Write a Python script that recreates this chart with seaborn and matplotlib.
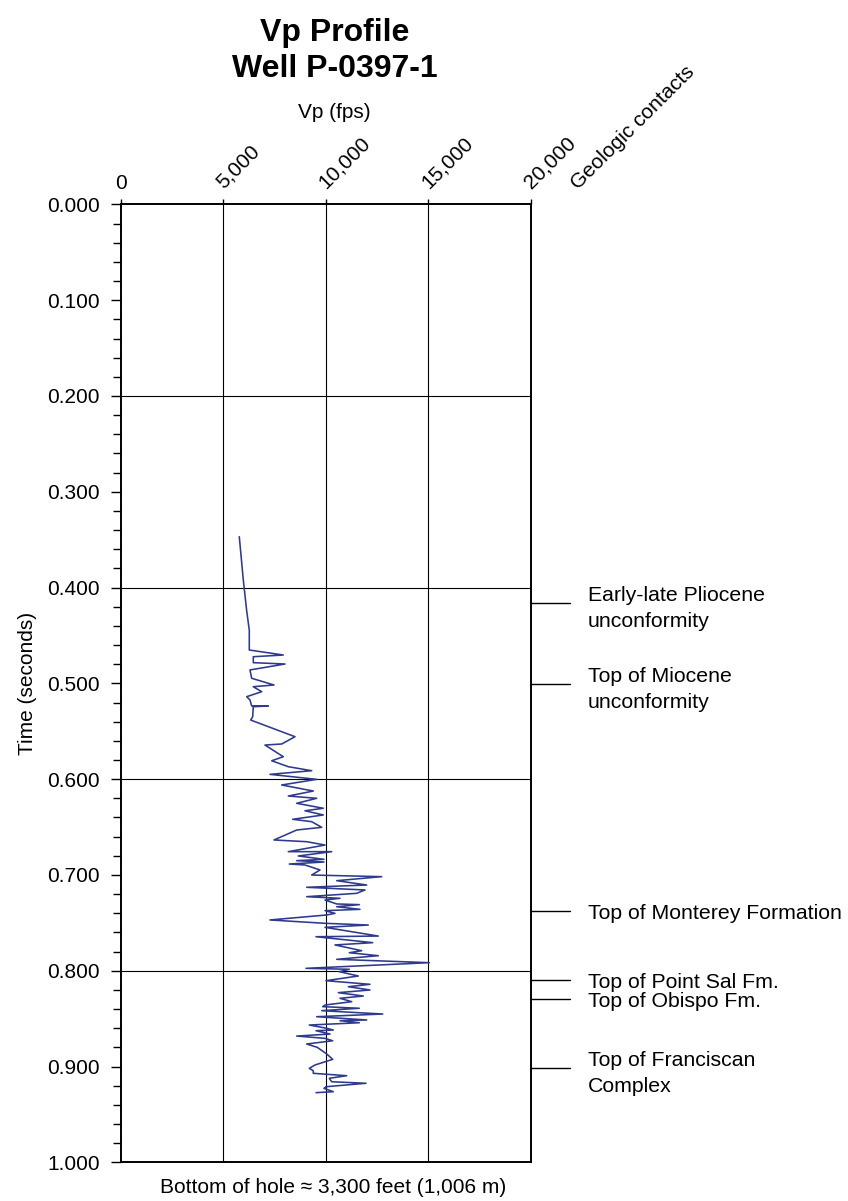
import numpy as np
import pandas as pd
import matplotlib
matplotlib.use("Agg")
import matplotlib.pyplot as plt
import seaborn as sns
from matplotlib.ticker import MultipleLocator, FuncFormatter

# Vp log (time in seconds, velocity in fps)
time_s = [0.3469, 0.3921, 0.4242, 0.4445, 0.4652, 0.4704, 0.4722, 0.4784, 0.4798, 0.4860,
          0.4947, 0.5017, 0.5035, 0.5087, 0.5139, 0.5174, 0.5236, 0.5236, 0.5244, 0.5348,
          0.5383, 0.5557, 0.5633, 0.5644, 0.5766, 0.5808, 0.5870, 0.5912, 0.5950, 0.6002,
          0.6061, 0.6124, 0.6176, 0.6200, 0.6252, 0.6304, 0.6330, 0.6374, 0.6419, 0.6444,
          0.6503, 0.6531, 0.6635, 0.6653, 0.6688, 0.6757, 0.6757, 0.6802, 0.6837, 0.6851,
          0.6865, 0.6886, 0.6896, 0.6948, 0.7001, 0.7018, 0.7060, 0.7105, 0.7129, 0.7157,
          0.7192, 0.7227, 0.7244, 0.7262, 0.7303, 0.7310, 0.7332, 0.7359, 0.7373, 0.7401,
          0.7418, 0.7470, 0.7505, 0.7523, 0.7547, 0.7638, 0.7645, 0.7707, 0.7731, 0.7791,
          0.7812, 0.7843, 0.7881, 0.7916, 0.7975, 0.7985, 0.8010, 0.8055, 0.8104, 0.8142,
          0.8167, 0.8201, 0.8229, 0.8264, 0.8288, 0.8323, 0.8358, 0.8375, 0.8392, 0.8417,
          0.8452, 0.8480, 0.8514, 0.8522, 0.8543, 0.8567, 0.8601, 0.8619, 0.8626, 0.8661,
          0.8682, 0.8706, 0.8731, 0.8765, 0.8800, 0.8869, 0.8925, 0.8984, 0.9019, 0.9044,
          0.9071, 0.9096, 0.9123, 0.9159, 0.9175, 0.9211, 0.9228, 0.9263, 0.9273]
vp_fps = [5780, 5976, 6141, 6268, 6268, 7927, 6463, 6463, 8010, 6302,
          6385, 7473, 6463, 6873, 6141, 6302, 6385, 7195, 6463, 6434,
          6337, 8498, 7849, 7034, 7927, 7361, 8171, 9312, 7278, 9556,
          7849, 9390, 8171, 9556, 8580, 9878, 8985, 9878, 8385, 9312,
          9800, 8580, 7473, 9068, 9961, 8171, 10288, 8659, 9912, 8580,
          9912, 8220, 8985, 9717, 9312, 12727, 10532, 11995, 9068, 11912,
          11507, 9068, 10693, 9961, 10532, 11634, 10532, 11668, 9961, 10449,
          10044, 7278, 9961, 12073, 9961, 12561, 9522, 12288, 10449, 11751,
          11146, 12561, 10532, 15049, 9034, 11146, 10659, 11585, 10010, 12156,
          11098, 12156, 10610, 11829, 10693, 11263, 9961, 9849, 11634, 9800,
          12776, 9556, 11995, 10693, 11634, 9195, 10044, 10366, 9522, 10205,
          8580, 9961, 10337, 9068, 9585, 10044, 10337, 9473, 9195, 9390,
          9390, 11020, 10171, 10288, 11961, 10010, 9912, 10366, 9522]

contact_times = [0.4165, 0.5007, 0.738, 0.8097, 0.8298, 0.9019]
contact_labels = ["Early-late Pliocene\nunconformity",
                  "Top of Miocene\nunconformity",
                  "Top of Monterey Formation",
                  "Top of Point Sal Fm.",
                  "Top of Obispo Fm.",
                  "Top of Franciscan\nComplex"]

x_ticks = [0, 5000, 10000, 15000, 20000]

df = pd.DataFrame({"time": time_s, "vp": vp_fps})

sns.set_style("white")
plt.rcParams["font.family"] = ["Liberation Sans", "DejaVu Sans"]
plt.rcParams["text.color"] = "black"
plt.rcParams["axes.labelcolor"] = "black"

fig = plt.figure(figsize=(8.48, 12.01), dpi=100)
ax = fig.add_axes([0.14245, 0.03222, 0.48349, 0.79758])

sns.lineplot(data=df, x="vp", y="time", sort=False, estimator=None,
             color="#2e3a8c", linewidth=1.15, ax=ax)

ax.set_xlim(0, 20000)
ax.set_ylim(1.0, 0.0)

# grid: verticals every 5,000 fps, horizontals every 0.2 s
for xv in x_ticks[1:-1]:
    ax.axvline(xv, color="black", lw=0.8, zorder=0)
for yv in np.arange(0.2, 0.9, 0.2):
    ax.axhline(yv, color="black", lw=0.8, zorder=0)

for sp in ax.spines.values():
    sp.set_color("black")
    sp.set_linewidth(1.4)

# x axis on top with slanted labels
ax.xaxis.tick_top()
ax.set_xticks(x_ticks)
ax.set_xticklabels(["{:,}".format(v) for v in x_ticks])
ax.tick_params(axis="x", which="major", top=True, bottom=False, direction="out",
               length=3.6, width=1, pad=7.5, labelsize=15, colors="black")
for i, lab in enumerate(ax.get_xticklabels()):
    lab.set_verticalalignment("baseline")
    if i == 0:
        lab.set_horizontalalignment("center")
    else:
        lab.set_rotation(45)
        lab.set_rotation_mode("anchor")
        lab.set_horizontalalignment("left")
ax.set_xlabel("")

# y axis
ax.yaxis.set_major_locator(MultipleLocator(0.1))
ax.yaxis.set_minor_locator(MultipleLocator(0.02))
ax.yaxis.set_major_formatter(FuncFormatter(lambda v, p: "{:.3f}".format(v)))
ax.tick_params(axis="y", which="major", left=True, direction="out", length=7.2,
               width=1, pad=7.7, labelsize=15, colors="black")
ax.tick_params(axis="y", which="minor", left=True, direction="out", length=5.5,
               width=1, colors="black")
ax.set_ylabel("Time (seconds)", fontsize=15)
ax.yaxis.set_label_coords(-0.205, 0.5)

# geologic contacts on the right
ytr = ax.get_yaxis_transform()
for t, lab in zip(contact_times, contact_labels):
    ax.plot([1.0, 1.0956], [t, t], color="black", lw=1.0, transform=ytr, clip_on=False)
    ax.text(1.1395, t, lab, transform=ytr, fontsize=15.3, va="center_baseline",
            ha="left", linespacing=1.45)

# titles and captions
fig.text(335 / 848, 1 - 41 / 1201, "Vp Profile", ha="center", va="baseline",
         fontsize=23, fontweight="bold")
fig.text(335 / 848, 1 - 77 / 1201, "Well P-0397-1", ha="center", va="baseline",
         fontsize=23, fontweight="bold")
fig.text(334 / 848, 1 - 118 / 1201, "Vp (fps)", ha="center", va="baseline", fontsize=15)
fig.text(578 / 848, 1 - 190 / 1201, "Geologic contacts", ha="left", va="baseline",
         rotation=45, rotation_mode="anchor", fontsize=15)
fig.text(333 / 848, 1 - 1193 / 1201, "Bottom of hole \u2248 3,300 feet (1,006 m)",
         ha="center", va="baseline", fontsize=15)

fig.savefig("out.png", dpi=100)
